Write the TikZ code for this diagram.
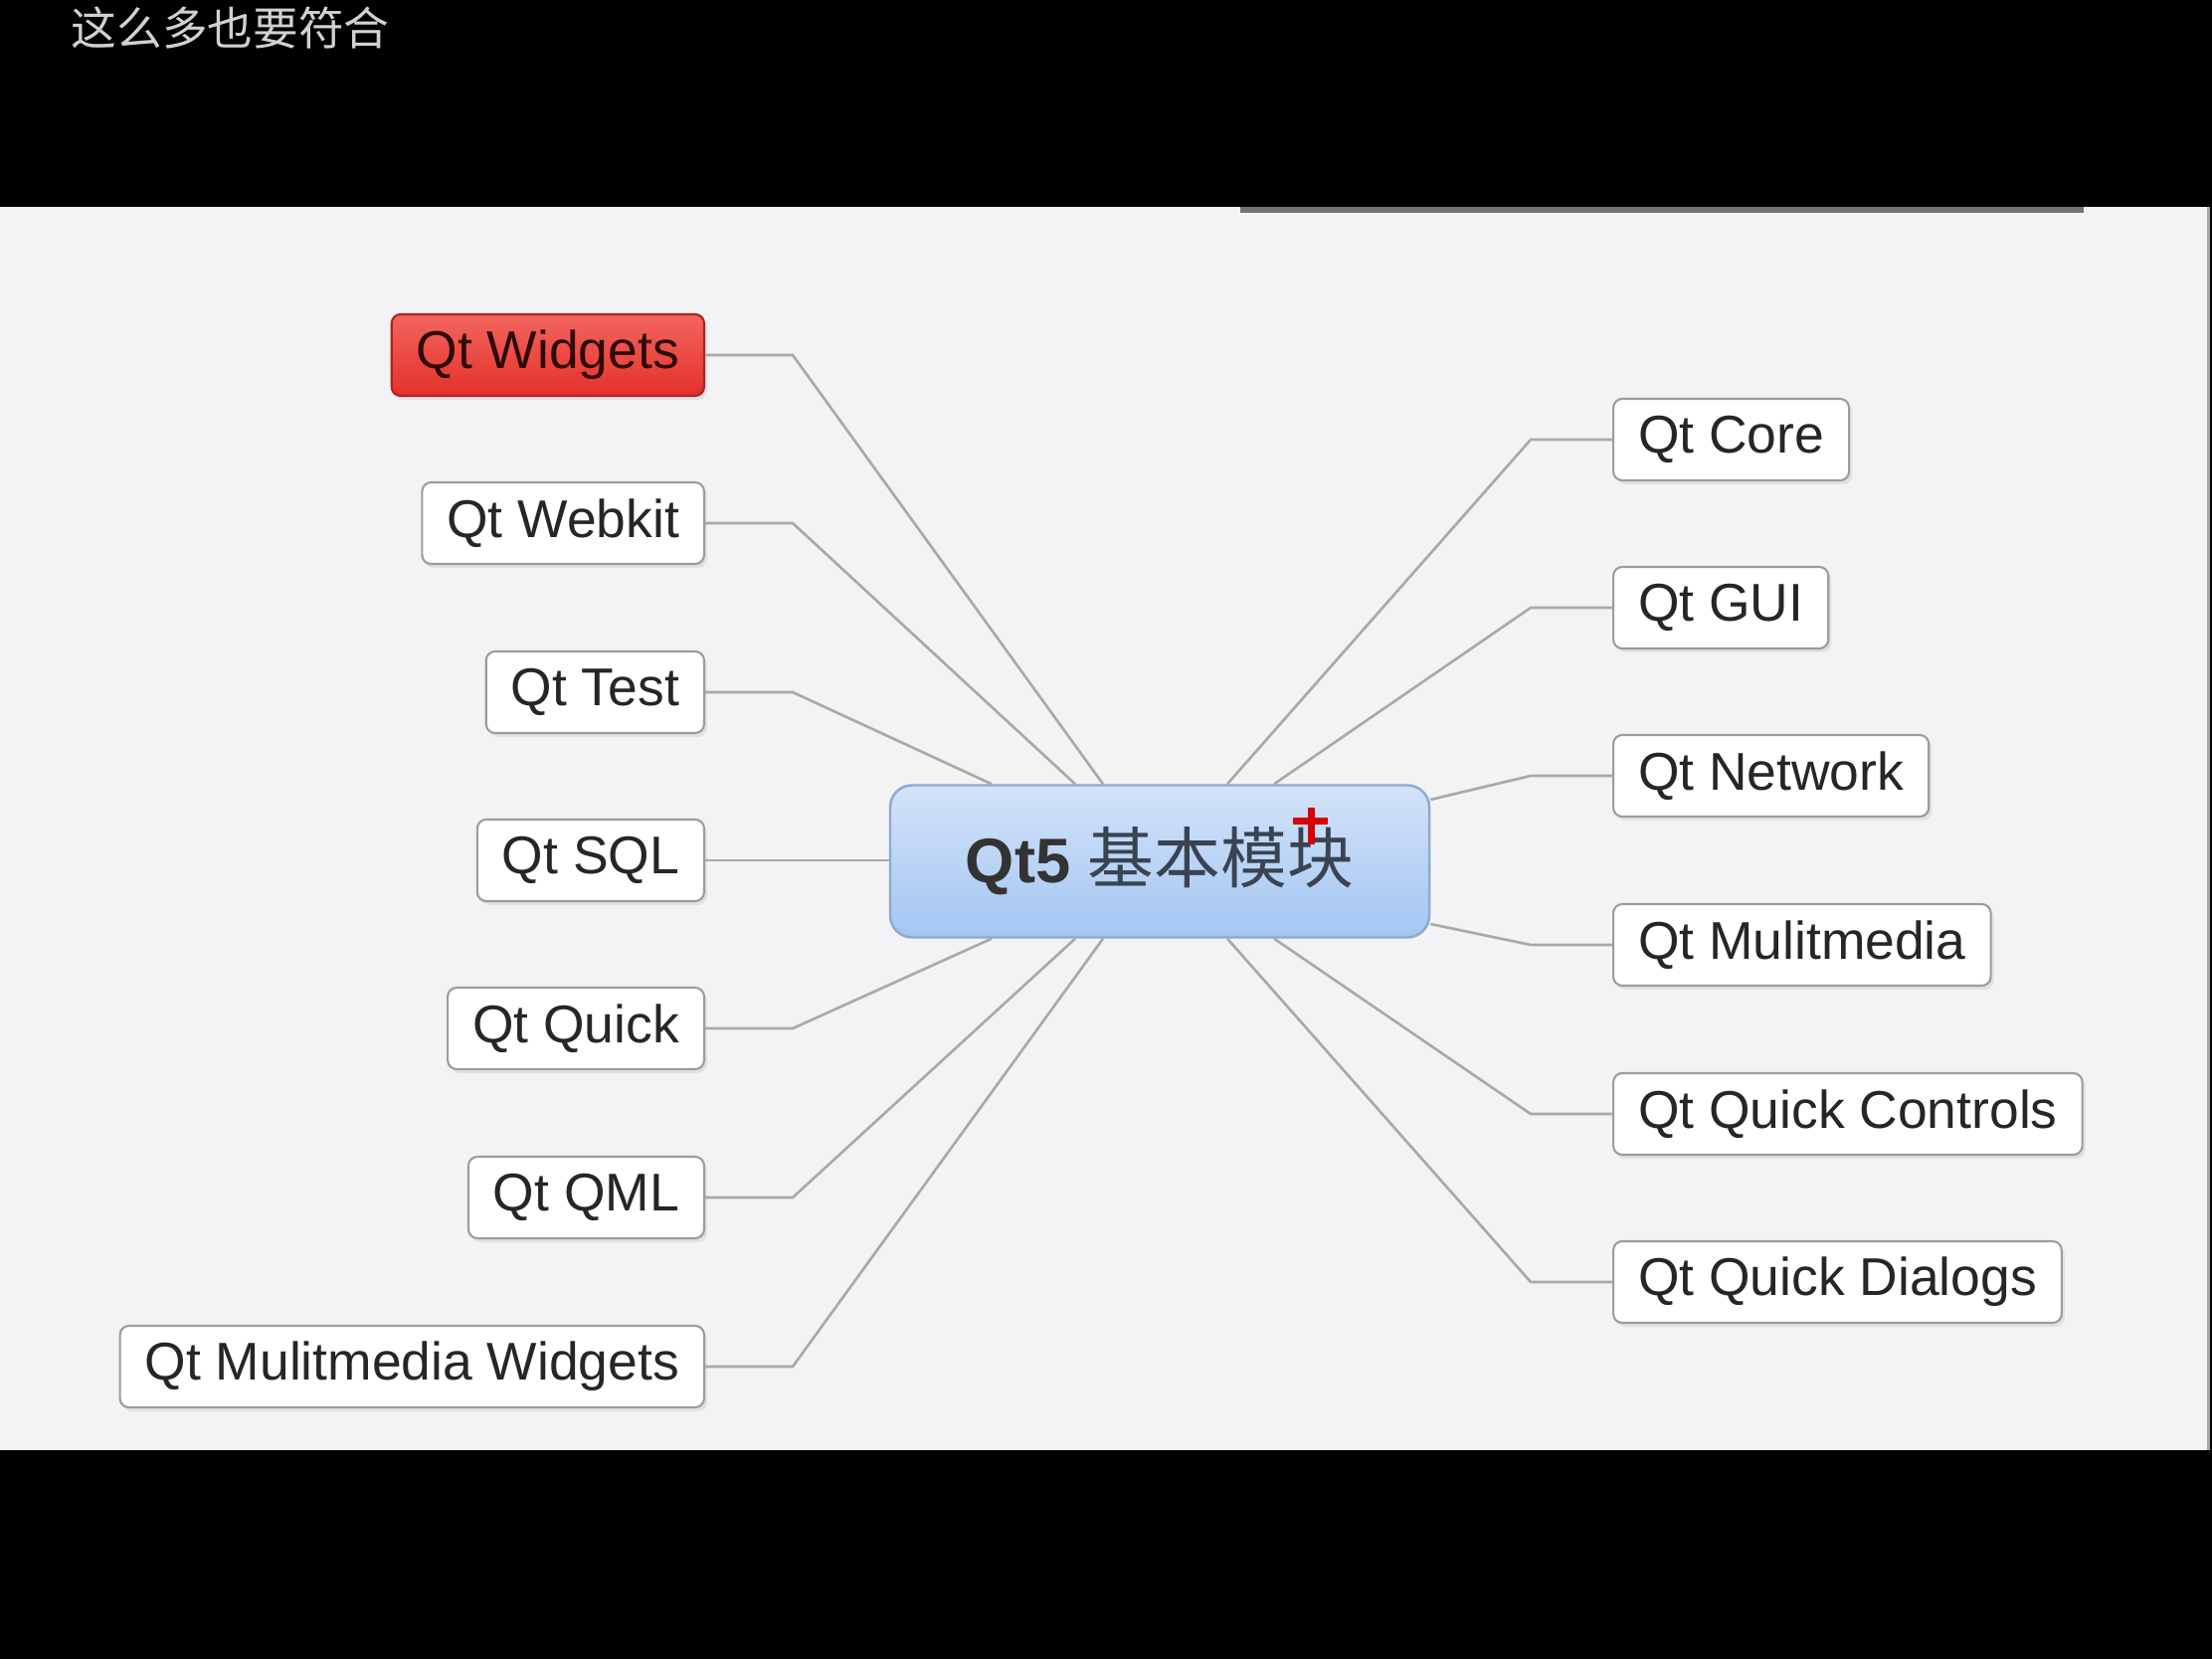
\documentclass[tikz,border=0pt]{standalone}
\usepackage{fontspec}
\setmainfont{Liberation Sans}
\newfontfamily\cjk{Noto Sans CJK SC}
\usetikzlibrary{shadows}

\definecolor{panelgrey}{HTML}{F3F2F4}
\definecolor{linkgrey}{HTML}{A9A9A9}
\definecolor{boxgrey}{HTML}{9C9C9C}
\definecolor{textgrey}{HTML}{262626}
\definecolor{widgetred}{HTML}{E5302A}
\definecolor{widgetredtop}{HTML}{F2665E}
\definecolor{hubtop}{HTML}{D3E3F9}
\definecolor{hubbottom}{HTML}{A3C6F2}
\definecolor{hubedge}{HTML}{8EA9CC}
\definecolor{hubtext}{HTML}{3A4352}

\tikzset{
	module/.style={draw=boxgrey, line width=0.6pt, fill=white, rounded corners=0.9mm,
		minimum height=8.2mm, inner xsep=2.5mm, inner ysep=0pt, text=textgrey,
		font=\fontsize{15.2}{18}\selectfont,
		drop shadow={opacity=0.15, shadow xshift=0.3mm, shadow yshift=-0.4mm}},
	hot/.style={module, draw=widgetred!75!black, top color=widgetredtop, bottom color=widgetred,
		text=widgetred!20!black},
	hub/.style={draw=hubedge, line width=0.7pt, rounded corners=2.2mm, top color=hubtop,
		bottom color=hubbottom, minimum width=54.2mm, minimum height=15.3mm},
	link/.style={draw=linkgrey, line width=0.75pt}
}

\begin{document}
\begin{tikzpicture}[x=0.1mm, y=-0.1mm]
	% Screen
	\fill (0,0) rectangle (2224,1668);
	\fill[panelgrey] (0,208) rectangle (2219,1458);
	\fill[gray!70] (2219,208) rectangle (2222,1458);
	\fill[black!55] (1247,208) rectangle (2095,214);
	\node[anchor=west, inner sep=0pt, text=black!18, font=\cjk\fontsize{13}{16}\selectfont] (caption) at (71,28) {这么多也要符合};

	% Hub
	\node[hub] (hub) at (1166,866) {\fontsize{18}{22}\selectfont\textbf{\color{black!80}Qt5} {\cjk\fontsize{19}{22}\selectfont\color{hubtext}基本模块}};
	\draw[red!85!black, line width=0.7mm] (1300,826) -- (1335,826);
	\draw[red!85!black, line width=0.7mm] (1318,812) -- (1318,849);

	% Left modules
	\node[hot, anchor=east] (widgets) at (709,357) {Qt Widgets};
	\foreach \name/\txt/\y in {webkit/Qt Webkit/526, test/Qt Test/696, sql/Qt SQL/865,
		quick/Qt Quick/1034, qml/Qt QML/1204, mmwidgets/Qt Mulitmedia Widgets/1374} {
		\node[module, anchor=east] (\name) at (709,\y) {\txt};
	}

	% Right modules
	\foreach \name/\txt/\y in {core/Qt Core/442, gui/Qt GUI/611, network/Qt Network/780,
		multimedia/Qt Mulitmedia/950, controls/Qt Quick Controls/1120, dialogs/Qt Quick Dialogs/1289} {
		\node[module, anchor=west] (\name) at (1621,\y) {\txt};
	}

	% Links
	\foreach \name/\dx in {widgets/-5.7, webkit/-8.5, test/-16.9} {
		\draw[link] (\name.east) -- ++(88,0) -- ([xshift=\dx mm]hub.north);
	}
	\foreach \name/\dx in {quick/-16.9, qml/-8.5, mmwidgets/-5.7} {
		\draw[link] (\name.east) -- ++(88,0) -- ([xshift=\dx mm]hub.south);
	}
	\draw[link] (sql.east) -- (sql.east -| hub.west);
	\foreach \name/\dx in {core/6.8, gui/11.5} {
		\draw[link] (\name.west) -- ++(-82,0) -- ([xshift=\dx mm]hub.north);
	}
	\foreach \name/\dy in {network/6.2, multimedia/-6.3} {
		\draw[link] (\name.west) -- ++(-82,0) -- ([yshift=\dy mm]hub.east);
	}
	\foreach \name/\dx in {controls/11.5, dialogs/6.8} {
		\draw[link] (\name.west) -- ++(-82,0) -- ([xshift=\dx mm]hub.south);
	}
\end{tikzpicture}
\end{document}
